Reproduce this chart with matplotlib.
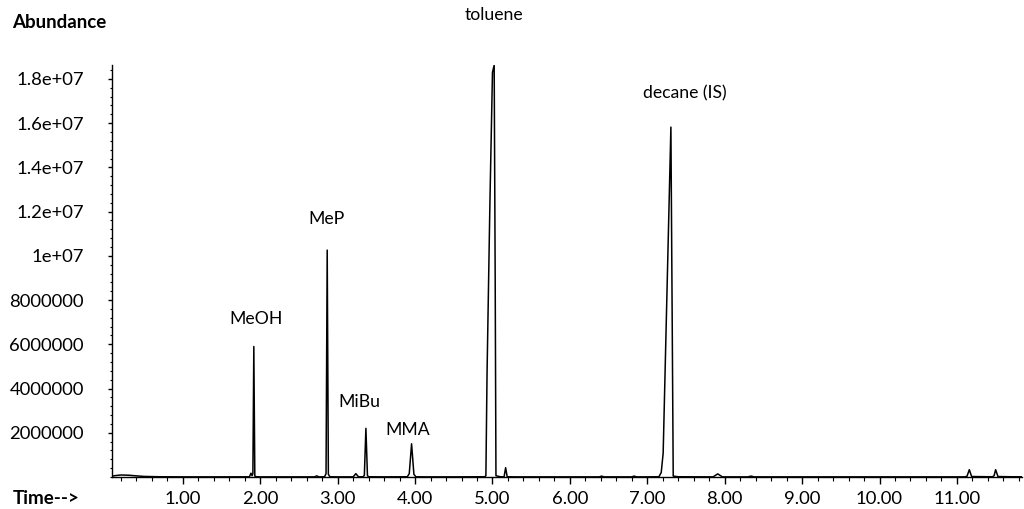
import matplotlib
matplotlib.use("Agg")
import matplotlib.pyplot as plt
from matplotlib.ticker import MultipleLocator, FixedLocator
import numpy as np

plt.rcParams['font.family'] = ['Lato', 'DejaVu Sans']

# trace (retention time in min, abundance)
rt = [0.08, 0.12, 0.20, 0.30, 0.40, 0.50, 0.70, 1.00, 1.50, 1.86, 1.88, 1.895,
      1.905, 1.917, 1.93, 1.95, 2.00, 2.50, 2.70, 2.73, 2.76, 2.83, 2.85, 2.865,
      2.88, 2.90, 3.00, 3.20, 3.235, 3.27, 3.33, 3.345, 3.365, 3.385, 3.40, 3.60,
      3.90, 3.925, 3.955, 3.985, 4.01, 4.10, 4.50, 4.90, 4.915, 4.93, 4.966, 5.00,
      5.022, 5.035, 5.045, 5.10, 5.15, 5.17, 5.19, 5.30, 6.00, 6.38, 6.41, 6.44,
      6.80, 6.83, 6.86, 7.00, 7.15, 7.18, 7.205, 7.305, 7.32, 7.335,
      7.40, 7.85, 7.91, 7.97, 8.30, 8.34, 8.38, 9.00, 10.00, 11.10, 11.13, 11.16,
      11.19, 11.46, 11.48, 11.50, 11.53, 11.70, 11.84]
abund = [30000, 60000, 90000, 80000, 50000, 25000, 10000, 5000, 5000, 8000, 170000, 60000,
         150000, 5900000, 40000, 10000, 5000, 5000, 5000, 50000, 5000, 8000, 150000, 10260000,
         120000, 10000, 5000, 5000, 150000, 5000, 10000, 80000, 2200000, 60000, 10000, 5000,
         10000, 150000, 1500000, 120000, 10000, 5000, 5000, 10000, 60000, 4700000, 12200000, 18300000,
         18620000, 9000000, 60000, 10000, 10000, 420000, 10000, 5000, 5000, 5000, 40000, 5000,
         5000, 40000, 5000, 5000, 10000, 200000, 1080000, 15820000, 8000000, 40000,
         10000, 5000, 140000, 5000, 5000, 40000, 5000, 5000, 5000, 5000, 30000, 330000,
         20000, 10000, 60000, 330000, 20000, 10000, 10000]

peak_names = ['MeOH', 'MeP', 'MiBu', 'MMA', 'toluene', 'decane (IS)']
label_x = [1.943, 2.85, 3.287, 3.907, 5.02, 7.486]
label_y = [7.14e6, 1.165e7, 3.39e6, 2.12e6, 2.088e7, 1.736e7]

y_ticks = [2e6, 4e6, 6e6, 8e6, 1e7, 1.2e7, 1.4e7, 1.6e7, 1.8e7]
y_labels = ['2000000', '4000000', '6000000', '8000000', '1e+07',
            '1.2e+07', '1.4e+07', '1.6e+07', '1.8e+07']
x_ticks = [1, 2, 3, 4, 5, 6, 7, 8, 9, 10, 11]
x_labels = ['%.2f' % t for t in x_ticks]

fig = plt.figure(figsize=(10.24, 5.09), dpi=100)
ax = fig.add_axes([0.109, 0.0629, 0.889, 0.809])

ax.plot(rt, abund, color='black', lw=1.1)

for name, lx, ly in zip(peak_names, label_x, label_y):
    ax.text(lx, ly, name, ha='center', va='center', fontsize=12.7, clip_on=False)

ax.set_xlim(0.08, 11.84)
ax.set_ylim(0, 1.862e7)

ax.xaxis.set_major_locator(FixedLocator(x_ticks))
ax.set_xticklabels(x_labels)
ax.xaxis.set_minor_locator(MultipleLocator(0.2))
ax.yaxis.set_major_locator(FixedLocator(y_ticks))
ax.set_yticklabels(y_labels)
ax.yaxis.set_minor_locator(MultipleLocator(4e5))

ax.tick_params(axis='x', which='major', length=5, width=1, pad=5, labelsize=13.3)
ax.tick_params(axis='x', which='minor', length=3, width=0.8)
ax.tick_params(axis='y', which='major', length=3, width=1, pad=17, labelsize=13.3)
ax.tick_params(axis='y', which='minor', length=1.5, width=0.8)

for s in ['top', 'right']:
    ax.spines[s].set_visible(False)
for s in ['left', 'bottom']:
    ax.spines[s].set_linewidth(1.0)

fig.text(12 / 1024, 1 - 23 / 509, 'Abundance', fontsize=13.5, fontweight='bold',
         ha='left', va='center')
fig.text(13 / 1024, 1 - 498 / 509, 'Time-->', fontsize=13.5, fontweight='bold',
         ha='left', va='center')

fig.savefig('out.png', dpi=100)
